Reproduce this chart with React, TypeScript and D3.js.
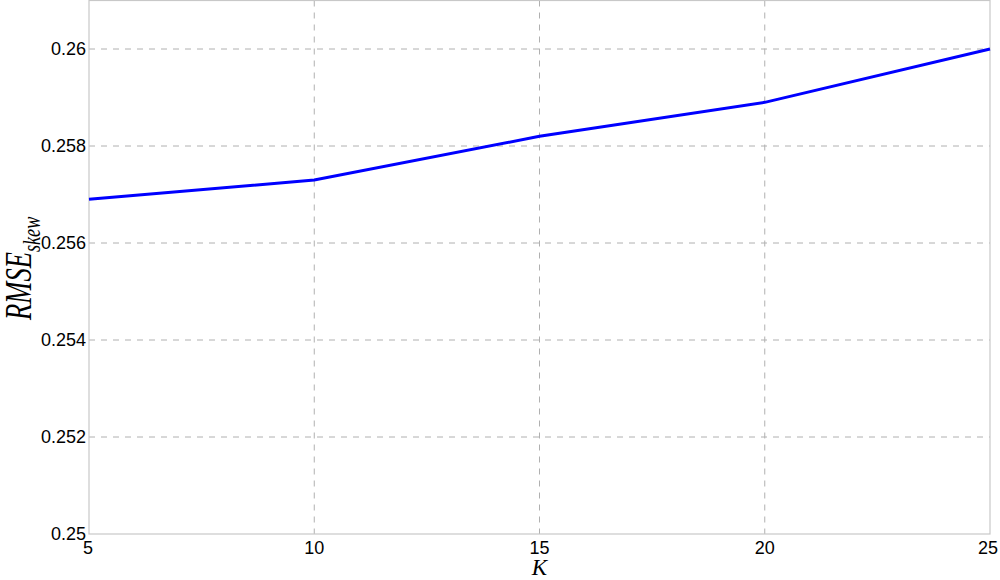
import React, { useEffect, useRef } from "react";
import * as d3 from "d3";

const kValues = [5, 10, 15, 20, 25];
const rmseSkew = [0.2569, 0.2573, 0.2582, 0.2589, 0.26];
const yTicks = [0.25, 0.252, 0.254, 0.256, 0.258, 0.26];
const yTickLabels = ["0.25", "0.252", "0.254", "0.256", "0.258", "0.26"];

const App = () => {
  const ref = useRef<SVGSVGElement>(null);

  useEffect(() => {
    const width = 1000, height = 580;
    const m = { left: 89, right: 10, top: 0.5, bottom: 46 };
    const svg = d3.select(ref.current).attr("width", width).attr("height", height);
    svg.selectAll("*").remove();

    const x = d3.scaleLinear().domain([5, 25]).range([m.left, width - m.right]);
    const y = d3.scaleLinear().domain([0.25, 0.261]).range([height - m.bottom, m.top]);

    // grid
    const g = svg.append("g");
    g.selectAll(".vg")
      .data(kValues.slice(1, -1))
      .enter()
      .append("line")
      .attr("x1", d => x(d)).attr("x2", d => x(d))
      .attr("y1", y(0.261)).attr("y2", y(0.25))
      .attr("stroke", "#b0b0b0").attr("stroke-dasharray", "6,6");
    g.selectAll(".hg")
      .data(yTicks.slice(1))
      .enter()
      .append("line")
      .attr("x1", x(5)).attr("x2", x(25))
      .attr("y1", d => y(d)).attr("y2", d => y(d))
      .attr("stroke", "#b0b0b0").attr("stroke-dasharray", "6,6");

    // frame
    svg.append("rect")
      .attr("x", x(5)).attr("y", y(0.261))
      .attr("width", x(25) - x(5)).attr("height", y(0.25) - y(0.261))
      .attr("fill", "none").attr("stroke", "#c8c8c8").attr("stroke-width", 1.2);

    // line
    const line = d3.line<number>()
      .x((_, i) => x(kValues[i]))
      .y(d => y(d));
    svg.append("path")
      .datum(rmseSkew)
      .attr("d", line)
      .attr("fill", "none")
      .attr("stroke", "#0000ff")
      .attr("stroke-width", 3);

    const font = "'Liberation Sans', Arial, sans-serif";
    svg.selectAll(".yt")
      .data(yTicks)
      .enter()
      .append("text")
      .attr("x", x(5) - 3)
      .attr("y", d => y(d))
      .attr("dy", "0.35em")
      .attr("text-anchor", "end")
      .attr("font-family", font)
      .attr("font-size", 18)
      .text((_, i) => yTickLabels[i]);

    svg.selectAll(".xt")
      .data(kValues)
      .enter()
      .append("text")
      .attr("x", d => x(d))
      .attr("y", y(0.25) + 20)
      .attr("text-anchor", d => (d === 25 ? "end" : d === 5 ? "start" : "middle"))
      .attr("dx", d => (d === 25 ? 8 : d === 5 ? -6 : 0))
      .attr("font-family", font)
      .attr("font-size", 18)
      .text(d => String(d));

    // axis titles
    svg.append("text")
      .attr("x", (x(5) + x(25)) / 2)
      .attr("y", 575)
      .attr("text-anchor", "middle")
      .attr("font-family", "'Liberation Serif', 'Times New Roman', serif")
      .attr("font-style", "italic")
      .attr("font-size", 23)
      .text("K");

    // squeezed along the text direction like the original
    const yl = svg.append("text")
      .attr("transform", "translate(31, 320) rotate(-90) scale(0.7, 1)")
      .attr("text-anchor", "start")
      .attr("font-family", "'Liberation Serif', 'Times New Roman', serif")
      .attr("font-style", "italic")
      .attr("font-size", 38);
    yl.append("tspan").text("RMSE");
    yl.append("tspan").attr("font-size", 26).attr("dy", 9).text("skew");
  }, []);

  return <svg ref={ref} style={{ position: "absolute", left: 0, top: 0 }}></svg>;
};

export default App;
